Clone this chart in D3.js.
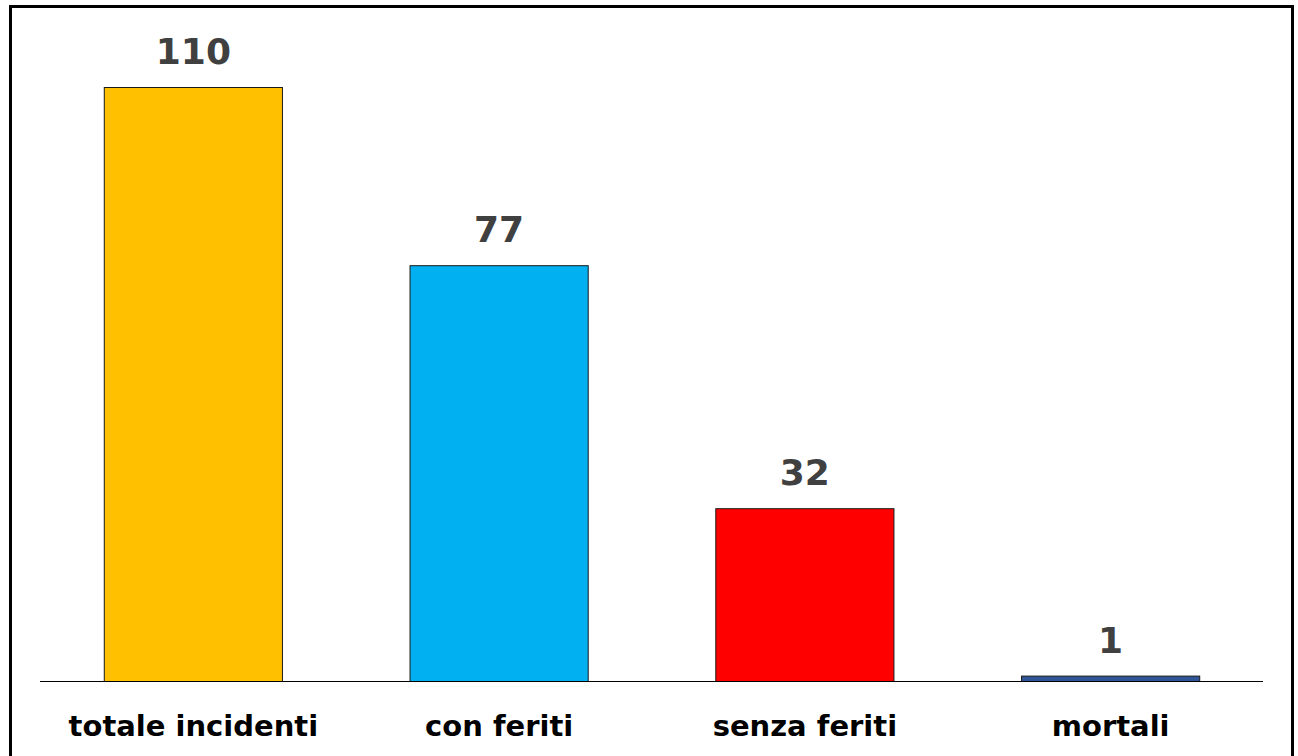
<!DOCTYPE html>
<html>
<head>
<meta charset="utf-8">
<script src="https://cdn.jsdelivr.net/npm/d3@7"></script>
<style>
  html, body { margin: 0; padding: 0; background: #fff; }
  svg { display: block; }
</style>
</head>
<body>
<svg id="chart" width="1298" height="756"></svg>
<script>
const categories = ["totale incidenti", "con feriti", "senza feriti", "mortali"];
const values = [110, 77, 32, 1];
const colors = ["#FFC000", "#00B0F0", "#FF0000", "#2F5597"];

const svg = d3.select("#chart");
const W = 1298, H = 756;

// frame
svg.append("rect").attr("x", 0).attr("y", 0).attr("width", W).attr("height", H).attr("fill", "#fff");
svg.append("path")
  .attr("d", "M10.5,770 L10.5,6.5 L1292.5,6.5 L1292.5,770")
  .attr("fill", "none").attr("stroke", "#000").attr("stroke-width", 3);
svg.append("line").attr("x1", 10).attr("x2", 1293).attr("y1", 6.5).attr("y2", 6.5)
  .attr("stroke", "#000").attr("stroke-width", 1.5);

const plotLeft = 40, plotRight = 1263, baseY = 681;
const x = d3.scaleBand().domain(categories).range([plotLeft, plotRight]).paddingInner(0.4173).paddingOuter(0.2086);
const y = d3.scaleLinear().domain([0, 110]).range([baseY, 87]);

const g = svg.append("g");

g.selectAll("rect.bar").data(categories).enter().append("rect")
  .attr("class", "bar")
  .attr("x", d => x(d) + 0.5)
  .attr("y", (d, i) => y(values[i]) + 0.5)
  .attr("width", x.bandwidth())
  .attr("height", (d, i) => baseY - y(values[i]))
  .attr("fill", (d, i) => colors[i])
  .attr("stroke", "#1a1a1a").attr("stroke-width", 1);

// baseline
g.append("line").attr("x1", plotLeft).attr("x2", plotRight).attr("y1", baseY + 0.5).attr("y2", baseY + 0.5)
  .attr("stroke", "#000").attr("stroke-width", 1.2);

// value labels
g.selectAll("text.val").data(categories).enter().append("text")
  .attr("class", "val")
  .attr("x", d => x(d) + x.bandwidth() / 2 + 0.5)
  .attr("y", (d, i) => y(values[i]) - 23)
  .attr("text-anchor", "middle")
  .attr("font-family", "DejaVu Sans, Verdana, sans-serif")
  .attr("font-weight", "bold")
  .attr("font-size", 36)
  .attr("fill", "#404040")
  .text((d, i) => values[i]);

// category labels
const xAxis = d3.axisBottom(x).tickSize(0).tickPadding(0);
const ax = svg.append("g").attr("transform", `translate(0.5,${baseY})`).call(xAxis);
ax.select(".domain").remove();
ax.selectAll("text")
  .attr("dy", 0)
  .attr("y", 54.5)
  .attr("font-family", "DejaVu Sans, Verdana, sans-serif")
  .attr("font-weight", "bold")
  .attr("font-size", 29)
  .attr("fill", "#000");
</script>
</body>
</html>
